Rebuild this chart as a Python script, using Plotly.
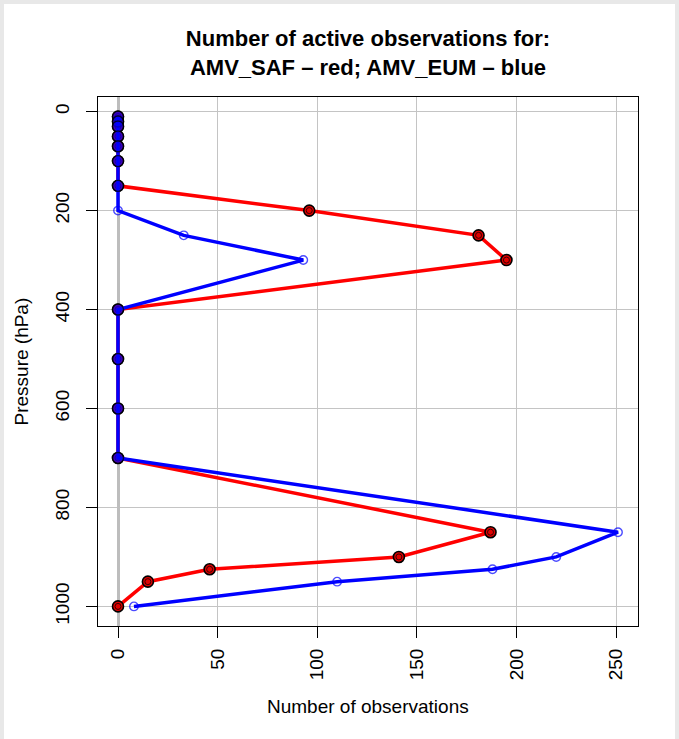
import plotly.graph_objects as go

pressure = [10, 20, 30, 50, 70, 100, 150, 200, 250, 300, 400, 500, 600, 700, 850, 900, 925, 950, 1000]
amv_saf = [0, 0, 0, 0, 0, 0, 0, 96, 181, 195, 0, 0, 0, 0, 187, 141, 46, 15, 0]
amv_eum = [0, 0, 0, 0, 0, 0, 0, 0, 33, 93, 0, 0, 0, 0, 251, 220, 188, 110, 8]
x_ticks = [0, 50, 100, 150, 200, 250]
y_ticks = [0, 200, 400, 600, 800, 1000]

FONT = "Liberation Sans, Arial, Helvetica, sans-serif"
W, H = 679, 739
L, R, T, B = 98, 41, 97, 113

fig = go.Figure()

# red series: line + filled markers with black outline
fig.add_trace(go.Scatter(
    x=amv_saf, y=pressure, mode="lines+markers",
    line=dict(color="#ff0000", width=3.5),
    marker=dict(symbol="circle", size=11, color="#e00000",
                line=dict(color="#000000", width=1.6)),
    showlegend=False, hoverinfo="x+y"))
fig.add_trace(go.Scatter(
    x=amv_saf, y=pressure, mode="markers",
    marker=dict(symbol="circle-open", size=6, color="#3a0000",
                line=dict(width=1)),
    showlegend=False, hoverinfo="skip"))

# blue series: line + open markers (filled where overlapping red points)
overlap = [a == b for a, b in zip(amv_saf, amv_eum)]
fill_cols = ["#0000ff" if o else "rgba(0,0,0,0)" for o in overlap]
edge_cols = ["#000000" if o else "#0000ff" for o in overlap]
sizes = [11 if o else 8.5 for o in overlap]
fig.add_trace(go.Scatter(
    x=amv_eum, y=pressure, mode="lines",
    line=dict(color="#0000ff", width=3.5),
    showlegend=False, hoverinfo="x+y"))
fig.add_trace(go.Scatter(
    x=amv_eum, y=pressure, mode="markers",
    marker=dict(symbol="circle", size=sizes, color=fill_cols,
                line=dict(color=edge_cols, width=1.4)),
    showlegend=False, hoverinfo="skip"))

xmin, xmax = 0, max(max(amv_saf), max(amv_eum))
xpad = (xmax - xmin) * 0.04
ymin, ymax = min(pressure), max(pressure)
ypad = (ymax - ymin) * 0.04

fig.update_layout(
    width=W, height=H,
    margin=dict(l=L, r=R, t=T, b=B, pad=0, autoexpand=False),
    paper_bgcolor="#e8e8e8",
    plot_bgcolor="#ffffff",
    font=dict(family=FONT, color="#000000"),
    title=dict(
        text="<b>Number of active observations for:<br>AMV_SAF – red; AMV_EUM – blue</b>",
        x=(L + (W - R)) / 2 / W, xanchor="center",
        y=1 - 46 / H, yanchor="middle", yref="container",
        font=dict(size=22, family=FONT, color="#000000")),
    xaxis=dict(
        range=[xmin - xpad, xmax + xpad],
        tickvals=x_ticks, ticktext=[str(v) for v in x_ticks],
        tickangle=-90, tickfont=dict(size=19, family=FONT, color="#000000"),
        ticks="outside", ticklen=11, tickwidth=1, tickcolor="#000000",
        ticklabelstandoff=3,
        showgrid=True, gridcolor="#c4c4c4", gridwidth=1,
        zeroline=True, zerolinecolor="#bdbdbd", zerolinewidth=2.5,
        showline=True, linecolor="#000000", linewidth=1, mirror=True),
    yaxis=dict(
        range=[ymax + ypad, ymin - ypad],
        tickvals=y_ticks, ticktext=[str(v) for v in y_ticks],
        tickangle=-90, tickfont=dict(size=19, family=FONT, color="#000000"),
        ticks="outside", ticklen=11, tickwidth=1, tickcolor="#000000",
        ticklabelstandoff=9,
        showgrid=True, gridcolor="#c4c4c4", gridwidth=1,
        zeroline=False,
        showline=True, linecolor="#000000", linewidth=1, mirror=True),
    shapes=[dict(
        type="rect", xref="paper", yref="paper", layer="below",
        x0=(4 - L) / (W - L - R), x1=(675 - L) / (W - L - R),
        y0=(H - B - 745) / (H - T - B), y1=(H - B - 4) / (H - T - B),
        fillcolor="#ffffff", line=dict(width=0))],
    annotations=[
        dict(text="Number of observations", xref="paper", yref="paper",
             x=0.5, y=0, yanchor="middle", yshift=-80, showarrow=False,
             font=dict(size=19, family=FONT, color="#000000")),
        dict(text="Pressure (hPa)", xref="paper", yref="paper",
             x=0, y=0.5, xanchor="center", xshift=-77, textangle=-90,
             showarrow=False,
             font=dict(size=19, family=FONT, color="#000000")),
    ],
)

fig.write_html("out.html",
               config={"displayModeBar": False},
               post_script="document.body.style.margin='0';document.body.style.overflow='hidden';")
